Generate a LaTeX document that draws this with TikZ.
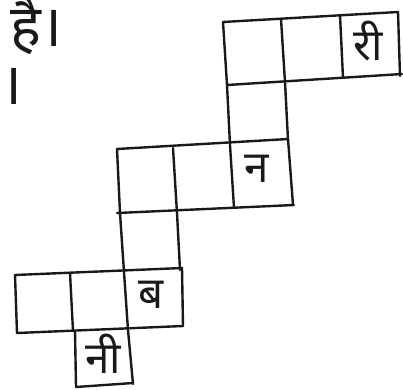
\documentclass[tikz,border=0pt]{standalone}
\usepackage{fontspec}
\newfontfamily\deva[Script=Devanagari]{Noto Sans}
\begin{document}
\begin{tikzpicture}[x=1pt,y=-1pt,
  gridline/.style={draw=black!90, line width=2.4pt, line join=round, line cap=round},
  letter/.style={font=\deva\fontsize{44}{44}\selectfont, inner sep=0pt, text=black!90},
  bigletter/.style={font=\deva\fontsize{58}{58}\selectfont, inner sep=0pt, text=black!90}]
\useasboundingbox (0,0) rectangle (403,389);
% top row
\draw[gridline] (223,22) -- (398,12) -- (400,76);
\draw[gridline] (227,85) -- (402,74);
\draw[gridline] (281,19) -- (285,82) -- (288,140);
\draw[gridline] (340,15) -- (343,78);
\draw[gridline] (223,22) -- (227,85) -- (230,145) -- (234,208);
% middle row
\draw[gridline] (117,149) -- (288,139) -- (293,205);
\draw[gridline] (117,213) -- (294,205);
\draw[gridline] (117,149) -- (120,213) -- (124,272) -- (128,330) -- (133,384);
\draw[gridline] (173,148) -- (177,213) -- (180,270);
% bottom row
\draw[gridline] (15,275) -- (182,268) -- (183,326);
\draw[gridline] (17,333) -- (183,326);
\draw[gridline] (15,275) -- (17,333);
\draw[gridline] (70,273) -- (73,331);
\draw[gridline] (75,331) -- (76,387) -- (133,383);
% letters
\node[letter] (ri) at (368,41) {री};
\node[letter] (na) at (257,169) {न};
\node[letter] (ba) at (151,295) {ब};
\node[letter] (ni) at (103,354) {नी};
\node[bigletter, anchor=base west] (hai) at (10,46) {है।};
\node[bigletter, anchor=base west] (danda) at (0.5,104) {।};
\end{tikzpicture}
\end{document}
